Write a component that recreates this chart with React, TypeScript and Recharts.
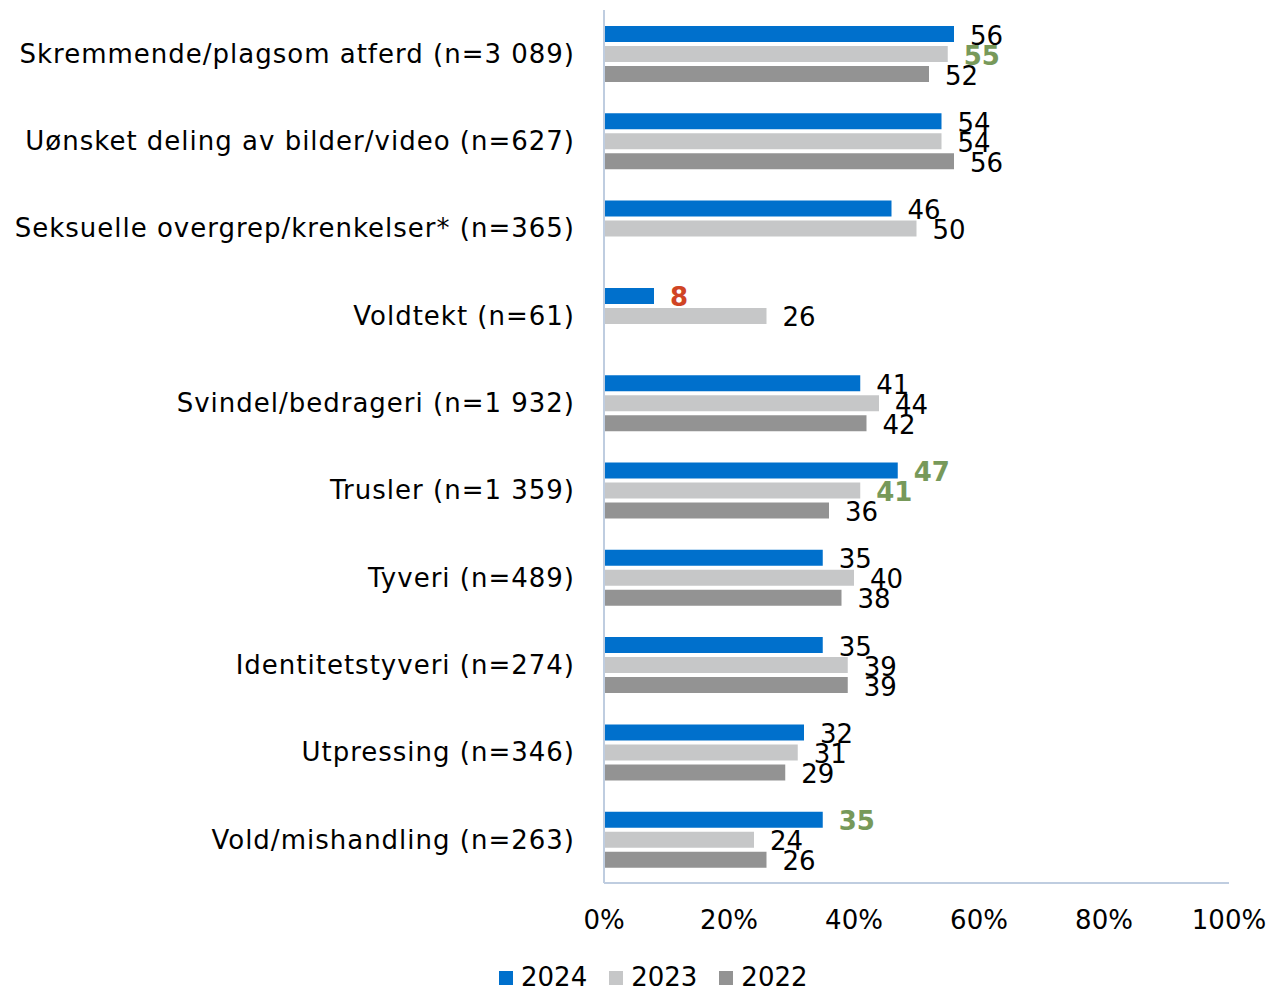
import React from 'react';
import { BarChart, Bar, XAxis, YAxis, Legend, LabelList } from 'recharts';

const categories = [
  'Skremmende/plagsom atferd (n=3 089)',
  'Uønsket deling av bilder/video (n=627)',
  'Seksuelle overgrep/krenkelser* (n=365)',
  'Voldtekt (n=61)',
  'Svindel/bedrageri (n=1 932)',
  'Trusler (n=1 359)',
  'Tyveri (n=489)',
  'Identitetstyveri (n=274)',
  'Utpressing (n=346)',
  'Vold/mishandling (n=263)',
];

const values2024 = [56, 54, 46, 8, 41, 47, 35, 35, 32, 35];
const values2023 = [55, 54, 50, 26, 44, 41, 40, 39, 31, 24];
const values2022: (number | null)[] = [52, 56, null, null, 42, 36, 38, 39, 29, 26];

// significant change markers: 'up' (green) / 'down' (red) / ''
const change2024 = ['', '', '', 'down', '', 'up', '', '', '', 'up'];
const change2023 = ['up', '', '', '', '', 'up', '', '', '', ''];
const change2022 = ['', '', '', '', '', '', '', '', '', ''];

const xTicks = [0, 20, 40, 60, 80, 100];
const seriesNames = ['2024', '2023', '2022'];

const COLORS = { '2024': '#0070CC', '2023': '#C6C7C8', '2022': '#939393' };
const FONT = '"DejaVu Sans", sans-serif';
const UP = '#77995A';
const DOWN = '#D04424';

const data = categories.map((c, i) => ({
  category: c,
  y2024: values2024[i],
  y2023: values2023[i],
  y2022: values2022[i],
}));

const makeLabel = (changes: string[]) => (props: any) => {
  const { x, y, width, height, value, index } = props;
  if (value === null || value === undefined) return null;
  const ch = changes[index];
  const fill = ch === 'up' ? UP : ch === 'down' ? DOWN : '#000';
  return (
    <text
      x={x + width + 16}
      y={y + height / 2 + 3}
      dominantBaseline="middle"
      fontFamily={FONT}
      fontSize={26}
      fontWeight={ch ? 'bold' : 'normal'}
      fill={fill}
    >
      {value}
    </text>
  );
};

const renderLegend = () => (
  <div
    style={{
      display: 'flex',
      paddingLeft: 499,
      paddingTop: 21,
      height: 27,
      lineHeight: '27px',
      fontFamily: FONT,
      fontSize: 26,
      color: '#000',
    }}
  >
    {seriesNames.map((s) => (
      <div key={s} style={{ display: 'flex', alignItems: 'center', marginRight: 22 }}>
        <span style={{ display: 'inline-block', width: 14, height: 14, background: (COLORS as any)[s], marginRight: 8 }} />
        <span>{s}</span>
      </div>
    ))}
  </div>
);

export default function App() {
  return (
    <div style={{ position: 'absolute', left: 0, top: 0, background: '#fff' }}>
      <BarChart
        width={1269}
        height={991}
        data={data}
        layout="vertical"
        margin={{ top: 10, right: 40, bottom: 0, left: 0 }}
        barSize={16}
        barGap={4}
      >
        <XAxis
          type="number"
          domain={[0, 100]}
          ticks={xTicks}
          tickFormatter={(v) => `${v}%`}
          axisLine={{ stroke: '#BFCDE0', strokeWidth: 2 }}
          tickLine={false}
          tickSize={0}
          tickMargin={28}
          height={60}
          tick={{ fontFamily: FONT, fontSize: 26, fill: '#000' }}
          interval={0}
        />
        <YAxis
          type="category"
          dataKey="category"
          width={604}
          axisLine={{ stroke: '#BFCDE0', strokeWidth: 2 }}
          tickLine={false}
          tickSize={0}
          tickMargin={29}
          tick={{ fontFamily: FONT, fontSize: 26, fill: '#000', letterSpacing: 1 }}
          interval={0}
        />
        <Legend verticalAlign="bottom" height={48} content={renderLegend} wrapperStyle={{ left: 0, width: 1269 }} />
        <Bar dataKey="y2024" name="2024" fill={COLORS['2024']} isAnimationActive={false}>
          <LabelList dataKey="y2024" content={makeLabel(change2024)} />
        </Bar>
        <Bar dataKey="y2023" name="2023" fill={COLORS['2023']} isAnimationActive={false}>
          <LabelList dataKey="y2023" content={makeLabel(change2023)} />
        </Bar>
        <Bar dataKey="y2022" name="2022" fill={COLORS['2022']} isAnimationActive={false}>
          <LabelList dataKey="y2022" content={makeLabel(change2022)} />
        </Bar>
      </BarChart>
    </div>
  );
}
